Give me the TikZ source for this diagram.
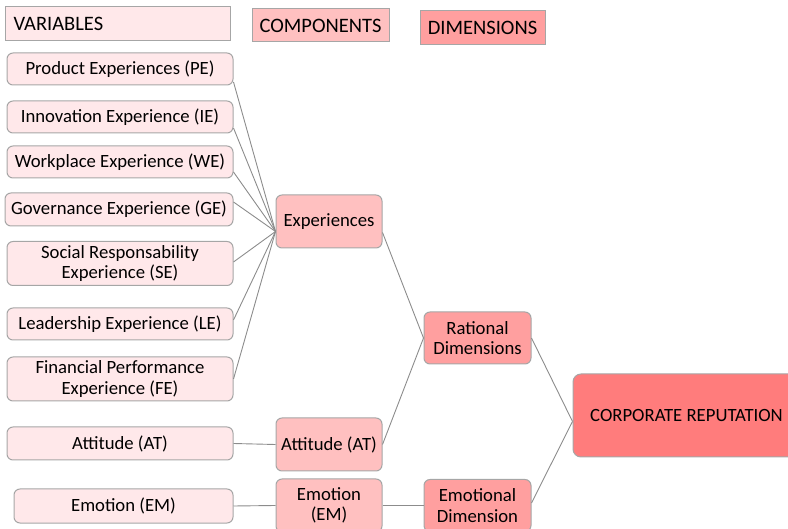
\documentclass[tikz,border=0pt]{standalone}
\usepackage{fontspec}
\setmainfont{Carlito}
\usetikzlibrary{calc}
\definecolor{varfill}{HTML}{FFE8EA}
\definecolor{compfill}{HTML}{FFC0C0}
\definecolor{dimfill}{HTML}{FF9F9F}
\definecolor{corpfill}{HTML}{FF7C7C}
\definecolor{edgegray}{HTML}{A6A6A6}
\definecolor{linkgray}{HTML}{8C8C8C}
\tikzset{
  base/.style={draw=edgegray, line width=1pt, inner sep=2pt, align=center,
    font=\fontsize{18.7}{20.5}\selectfont, text=black},
  varbox/.style={base, fill=varfill, rounded corners=6pt, minimum width=226pt},
  compbox/.style={base, fill=compfill, rounded corners=6pt, minimum width=106pt, minimum height=53pt},
  dimbox/.style={base, fill=dimfill, rounded corners=6pt, minimum width=107pt, minimum height=52pt},
  corpbox/.style={base, fill=corpfill, rounded corners=8pt, minimum width=227pt, minimum height=83pt},
  legbox/.style={base, font=\fontsize{20.5}{22}\selectfont},
  link/.style={draw=linkgray, line width=0.9pt}
}
\begin{document}
\begin{tikzpicture}[x=1pt, y=-1pt]
\useasboundingbox (0,0) rectangle (788,529);
% legend
\node[legbox, fill=varfill, minimum width=225pt, minimum height=34pt, text width=208pt, align=left] (lv) at (117.5,24) {VARIABLES};
\node[legbox, fill=compfill, minimum width=137pt, minimum height=33pt] (lc) at (320.5,25.5) {COMPONENTS};
\node[legbox, fill=dimfill, minimum width=125pt, minimum height=34pt] (ld) at (482.5,28) {DIMENSIONS};
% variables
\node[varbox, minimum height=32pt] (pe) at (120,69) {Product Experiences (PE)};
\node[varbox, minimum height=32pt] (ie) at (120,117) {Innovation Experience (IE)};
\node[varbox, minimum height=32pt] (we) at (120,162) {Workplace Experience (WE)};
\node[varbox, minimum height=33pt, minimum width=228pt] (ge) at (119,209.5) {Governance Experience (GE)};
\node[varbox, minimum height=44pt] (se) at (120,263.5) {Social Responsability\\Experience (SE)};
\node[varbox, minimum height=32pt] (le) at (120,324) {Leadership Experience (LE)};
\node[varbox, minimum height=44pt] (fe) at (120,379) {Financial Performance\\Experience (FE)};
\node[varbox, minimum height=33pt] (at) at (120,443.5) {Attitude (AT)};
\node[varbox, minimum height=34pt, minimum width=219pt] (em) at (123.5,506) {Emotion (EM)};
% components
\node[compbox] (exp) at (329,221.5) {Experiences};
\node[compbox] (atc) at (329,444.5) {Attitude (AT)};
\node[compbox] (emc) at (329,505.5) {Emotion\\(EM)};
% dimensions
\node[dimbox] (rat) at (477.5,338) {Rational\\Dimensions};
\node[dimbox] (emd) at (477.5,505.5) {Emotional\\Dimension};
% corporate
\node[corpbox] (corp) at (686.5,415.5) {CORPORATE REPUTATION};
% connectors
\coordinate (expin) at ($(exp.west)+(0,10)$);
\draw[link] ($(pe.east)+(0,13)$) -- (expin);
\draw[link] ($(ie.east)+(0,11)$) -- (expin);
\draw[link] ($(we.east)+(0,10)$) -- (expin);
\draw[link] ($(ge.east)+(0,-7.5)$) -- (expin);
\draw[link] ($(se.east)+(0,-1.5)$) -- (expin);
\draw[link] ($(le.east)+(0,-4)$) -- (expin);
\draw[link] (fe.east) -- (expin);
\draw[link] ($(exp.east)+(0,11)$) -- (rat.west);
\draw[link] (atc.east) -- (rat.west);
\draw[link] (at.east) -- (atc.west);
\draw[link] (em.east) -- (emc.west);
\draw[link] (emc.east) -- (emd.west);
\coordinate (corpin) at ($(corp.west)+(0,6)$);
\draw[link] (rat.east) -- (corpin);
\draw[link] ($(emd.east)+(0,-2.5)$) -- (corpin);
\end{tikzpicture}
\end{document}
